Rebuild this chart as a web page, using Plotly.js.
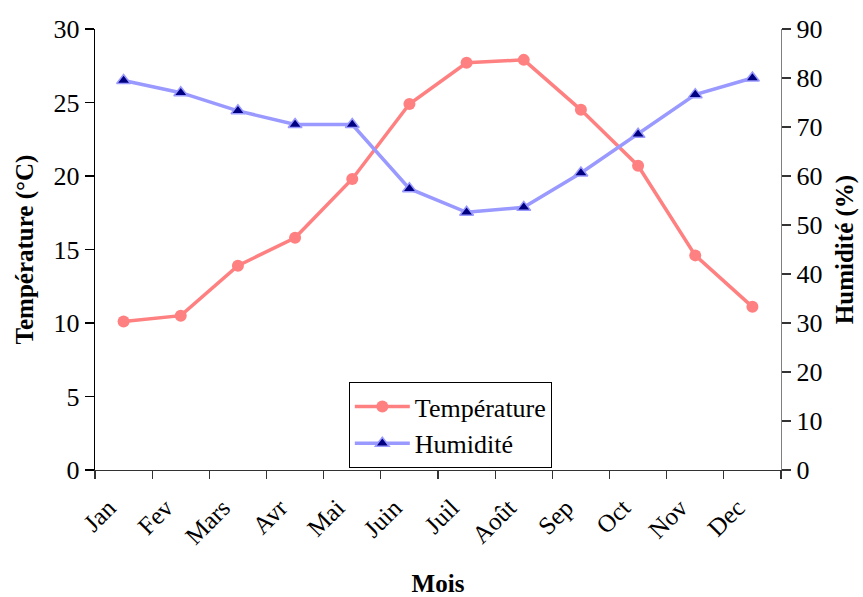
<!DOCTYPE html>
<html>
<head>
<meta charset="utf-8">
<script src="https://cdn.plot.ly/plotly-3.0.1.min.js"></script>
<style>html,body{margin:0;padding:0;background:#fff;}#chart{width:863px;height:597px;}</style>
</head>
<body>
<div id="chart"></div>
<script>
const months = ["Jan","Fev","Mars","Avr","Mai","Juin","Juil","Août","Sep","Oct","Nov","Dec"];
const temperature = [10.1, 10.5, 13.9, 15.8, 19.8, 24.9, 27.7, 27.9, 24.5, 20.7, 14.6, 11.1];
const humidity = [79.5, 77.0, 73.3, 70.5, 70.5, 57.4, 52.6, 53.6, 60.6, 68.5, 76.6, 80.0];
const leftTicks = [0, 5, 10, 15, 20, 25, 30];
const rightTicks = [0, 10, 20, 30, 40, 50, 60, 70, 80, 90];

const serif = "Liberation Serif, Times New Roman, serif";

const traces = [
  {
    x: months, y: temperature, name: "Température", type: "scatter", mode: "lines+markers",
    line: {color: "#FF8080", width: 3.5},
    marker: {symbol: "circle", size: 12, color: "#FF8080"},
    legendgroup: "t", xaxis: "x", yaxis: "y"
  },
  {
    x: months, y: humidity, name: "Humidité", type: "scatter", mode: "lines+markers",
    line: {color: "#9999FF", width: 3.5},
    marker: {symbol: "triangle-up", size: 12, color: "#000080", line: {color: "#9999FF", width: 1.5}},
    legendgroup: "h", xaxis: "x", yaxis: "y2"
  }
];

const layout = {
  width: 863, height: 597,
  paper_bgcolor: "#ffffff", plot_bgcolor: "#ffffff",
  margin: {l: 95, r: 82, t: 29, b: 127},
  font: {family: serif, size: 26, color: "#000"},
  showlegend: true,
  legend: {
    x: 0.37, y: 0.1995, xanchor: "left", yanchor: "top",
    bgcolor: "#ffffff", bordercolor: "#000", borderwidth: 1,
    font: {family: serif, size: 26, color: "#000"},
    itemwidth: 55, traceorder: "grouped", tracegroupgap: 0
  },
  xaxis: {
    type: "category", categoryarray: months, categoryorder: "array",
    range: [-0.5, 11.5], tickson: "boundaries",
    showline: true, linecolor: "#333", linewidth: 1.3,
    ticks: "outside", ticklen: 8, tickcolor: "#333", tickwidth: 1.3,
    tickangle: -45, tickfont: {family: serif, size: 25, color: "#000"},
    ticklabelstandoff: 12, ticklabelshift: -15,
    showgrid: false, zeroline: false,
    title: {text: "<b>Mois</b>", font: {family: serif, size: 25, color: "#000"}, standoff: 30}
  },
  yaxis: {
    range: [0, 30], tickvals: leftTicks, ticktext: leftTicks.map(String),
    showline: true, linecolor: "#000", linewidth: 1.3,
    ticks: "outside", ticklen: 9, tickcolor: "#000", tickwidth: 1.3,
    tickfont: {family: serif, size: 26, color: "#000"},
    showgrid: false, zeroline: false,
    title: {text: "<b>Température (°C)</b>", font: {family: serif, size: 25, color: "#000"}, standoff: 12}
  },
  yaxis2: {
    range: [0, 90], tickvals: rightTicks, ticktext: rightTicks.map(String),
    overlaying: "y", side: "right",
    showline: true, linecolor: "#808080", linewidth: 1.3,
    ticks: "outside", ticklen: 9, tickcolor: "#333", tickwidth: 1.3,
    tickfont: {family: serif, size: 26, color: "#000"},
    showgrid: false, zeroline: false,
    title: {text: "<b>Humidité (%)</b>", font: {family: serif, size: 25, color: "#000"}, standoff: 14}
  }
};

Plotly.newPlot("chart", traces, layout, {displayModeBar: false, staticPlot: true});
</script>
</body>
</html>
